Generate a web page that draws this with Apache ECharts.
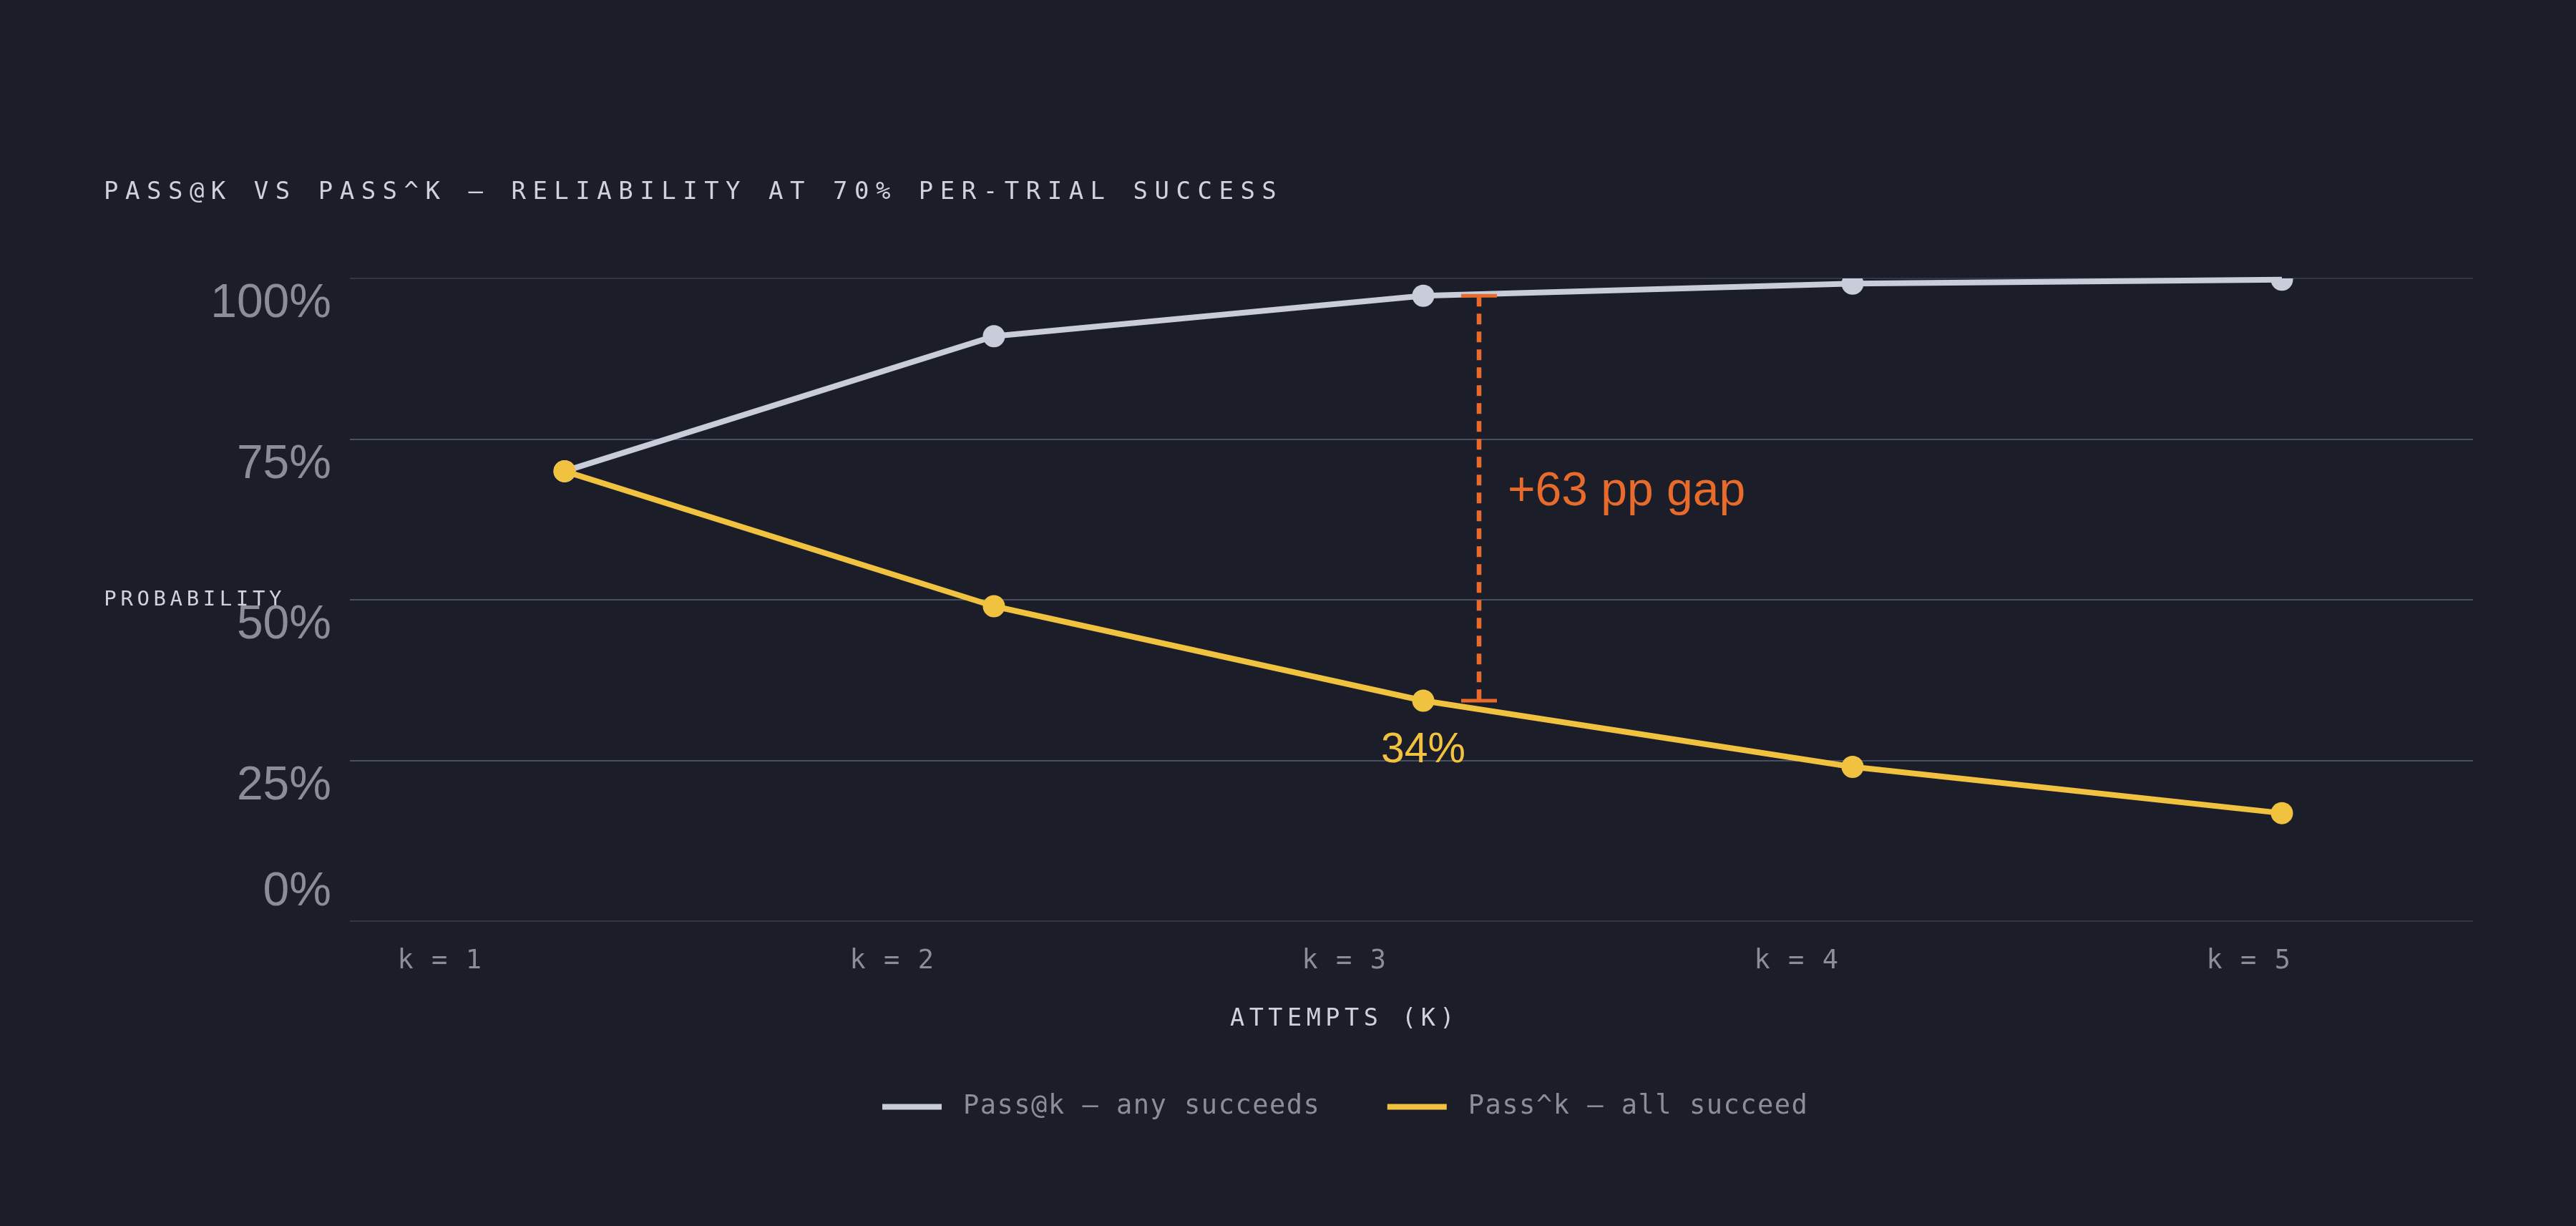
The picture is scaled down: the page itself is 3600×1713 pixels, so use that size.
<!DOCTYPE html>
<html>
<head>
<meta charset="utf-8">
<script src="https://cdn.jsdelivr.net/npm/echarts@6/dist/echarts.min.js"></script>
<style>
html,body{margin:0;padding:0;background:#1b1d29;}
#c{width:3600px;height:1713px;}
</style>
</head>
<body>
<div id="c"></div>
<script>
// ---- data ----
const kValues = [1, 2, 3, 4, 5];
const kLabels = ['k = 1', 'k = 2', 'k = 3', 'k = 4', 'k = 5'];
const passAt = [70, 91, 97.3, 99.2, 99.8];
const passAll = [70, 49, 34.3, 24.0, 16.8];
const seriesNames = ['Pass@k — any succeeds', 'Pass^k — all succeed'];
const gapMarker = [[3.13, 97.3, 34.3]];   // [k position, top value, bottom value]
const valueLabelIndex = [2];              // which Pass^k point gets a value label
const titleText = 'PASS@K VS PASS^K — RELIABILITY AT 70% PER-TRIAL SUCCESS';
const yName = 'PROBABILITY';
const xName = 'ATTEMPTS (K)';

// ---- letter spacing for the monospace captions ----
const SPACING = { '34': 9.5, '33.5': 6.5, '29': 5.6, '37': 1.5 };
(function () {
  const P = CanvasRenderingContext2D.prototype;
  ['fillText', 'strokeText'].forEach(function (fn) {
    const orig = P[fn];
    P[fn] = function () {
      const f = this.font || '';
      const m = /([\d.]+)px/.exec(f);
      if (m && f.indexOf('DejaVu Sans Mono') >= 0 && SPACING[m[1]] != null) {
        this.save();
        this.letterSpacing = SPACING[m[1]] + 'px';
        const r = orig.apply(this, arguments);
        this.restore();
        return r;
      }
      return orig.apply(this, arguments);
    };
  });
})();

const C_BG = '#1b1d29';
const C_AT = '#c9ccd9';
const C_ALL = '#f1c140';
const C_OR = '#e86b2c';
const C_MUTED = '#8b8e9a';
const C_CAP = '#cfd2dc';
const MONO = 'DejaVu Sans Mono';
const SANS = 'Liberation Sans';

const chart = echarts.init(document.getElementById('c'), null, { renderer: 'canvas' });

function pointsOf(vals) { return kValues.map((k, i) => [k, vals[i]]); }

function markerSeries(vals, color) {
  return {
    type: 'custom',
    xAxisIndex: 0, yAxisIndex: 0,
    data: pointsOf(vals),
    clip: true,
    silent: true,
    z: 5,
    renderItem: function (params, api) {
      const p = api.coord([api.value(0), api.value(1)]);
      return { type: 'circle', shape: { cx: p[0], cy: p[1], r: 15.5 }, style: { fill: color } };
    }
  };
}

const option = {
  backgroundColor: C_BG,
  animation: false,
  title: {
    text: titleText,
    left: 140, top: 247,
    textStyle: { fontFamily: MONO, fontSize: 34, fontWeight: 'normal', color: C_CAP }
  },
  legend: {
    data: seriesNames,
    left: 1228, top: 1523,
    icon: 'rect',
    itemWidth: 83, itemHeight: 8,
    itemGap: 125,
    textStyle: { fontFamily: MONO, fontSize: 37, color: C_MUTED, padding: [0, 0, 0, 25] }
  },
  grid: [
    { left: 489, right: 144, top: 389, bottom: 426, outerBoundsMode: 'none' },
    { left: 299, right: 141, top: 389, bottom: 426, outerBoundsMode: 'none' }
  ],
  xAxis: [
    { type: 'value', gridIndex: 0, min: 0.5, max: 5.445, show: false },
    {
      type: 'category', gridIndex: 1, data: kLabels, boundaryGap: true,
      axisLine: { show: false }, axisTick: { show: false }, splitLine: { show: false },
      axisLabel: { fontFamily: MONO, fontSize: 37, color: C_MUTED, margin: 38 },
      name: xName, nameLocation: 'middle', nameGap: 120, nameMoveOverlap: false,
      nameTextStyle: { fontFamily: MONO, fontSize: 33.5, color: C_CAP }
    }
  ],
  yAxis: [
    {
      type: 'value', gridIndex: 0, min: 0, max: 100, interval: 25,
      axisLine: { show: false }, axisTick: { show: false },
      splitLine: { lineStyle: { width: 2, color: ['#333645', '#465062', '#465062', '#465062', '#333645'] } },
      axisLabel: {
        margin: 26,
        formatter: function (v) { return v === 0 ? '{z|0%}' : '{n|' + v + '%}'; },
        rich: {
          n: { fontFamily: SANS, fontSize: 66, color: C_MUTED, padding: [72, 0, 0, 0] },
          z: { fontFamily: SANS, fontSize: 66, color: C_MUTED, padding: [0, 0, 80, 0] }
        }
      },
      name: yName, nameLocation: 'middle', nameRotate: 0, nameGap: 90, nameMoveOverlap: false,
      nameTextStyle: { fontFamily: MONO, fontSize: 29, color: C_CAP }
    },
    { type: 'value', gridIndex: 1, show: false }
  ],
  series: [
    {
      type: 'line', name: seriesNames[0], xAxisIndex: 0, yAxisIndex: 0,
      data: pointsOf(passAt), symbol: 'none', showSymbol: false, clip: true,
      color: C_AT, lineStyle: { width: 8, color: C_AT }, z: 3
    },
    {
      type: 'line', name: seriesNames[1], xAxisIndex: 0, yAxisIndex: 0,
      data: pointsOf(passAll), symbol: 'none', showSymbol: false, clip: true,
      color: C_ALL, lineStyle: { width: 8, color: C_ALL }, z: 3
    },
    markerSeries(passAt, C_AT),
    markerSeries(passAll, C_ALL),
    {
      type: 'custom', xAxisIndex: 0, yAxisIndex: 0, silent: true, z: 6,
      data: gapMarker,
      renderItem: function (params, api) {
        const x = api.value(0), t = api.value(1), b = api.value(2);
        const pt = api.coord([x, t]), pb = api.coord([x, b]);
        const cw = 25;
        const midY = (pt[1] + pb[1]) / 2;
        return {
          type: 'group',
          children: [
            { type: 'line', shape: { x1: pt[0], y1: pt[1], x2: pb[0], y2: pb[1] },
              style: { stroke: C_OR, lineWidth: 6.5, lineDash: [15, 10] } },
            { type: 'line', shape: { x1: pt[0] - cw, y1: pt[1], x2: pt[0] + cw, y2: pt[1] },
              style: { stroke: C_OR, lineWidth: 5 } },
            { type: 'line', shape: { x1: pb[0] - cw, y1: pb[1], x2: pb[0] + cw, y2: pb[1] },
              style: { stroke: C_OR, lineWidth: 5 } },
            { type: 'text', x: pt[0] + 40, y: midY - 8,
              style: { text: '+' + Math.round(t - b) + ' pp gap', fill: C_OR,
                fontFamily: SANS, fontSize: 66, align: 'left', verticalAlign: 'middle' } }
          ]
        };
      }
    },
    {
      type: 'custom', xAxisIndex: 0, yAxisIndex: 0, silent: true, z: 6,
      data: valueLabelIndex.map(i => [kValues[i], passAll[i]]),
      renderItem: function (params, api) {
        const v = api.value(1);
        const p = api.coord([api.value(0), v]);
        return { type: 'text', x: p[0], y: p[1] + 70,
          style: { text: Math.round(v) + '%', fill: C_ALL, fontFamily: SANS, fontSize: 59,
            align: 'center', verticalAlign: 'middle' } };
      }
    }
  ]
};
chart.setOption(option);
</script>
</body>
</html>
